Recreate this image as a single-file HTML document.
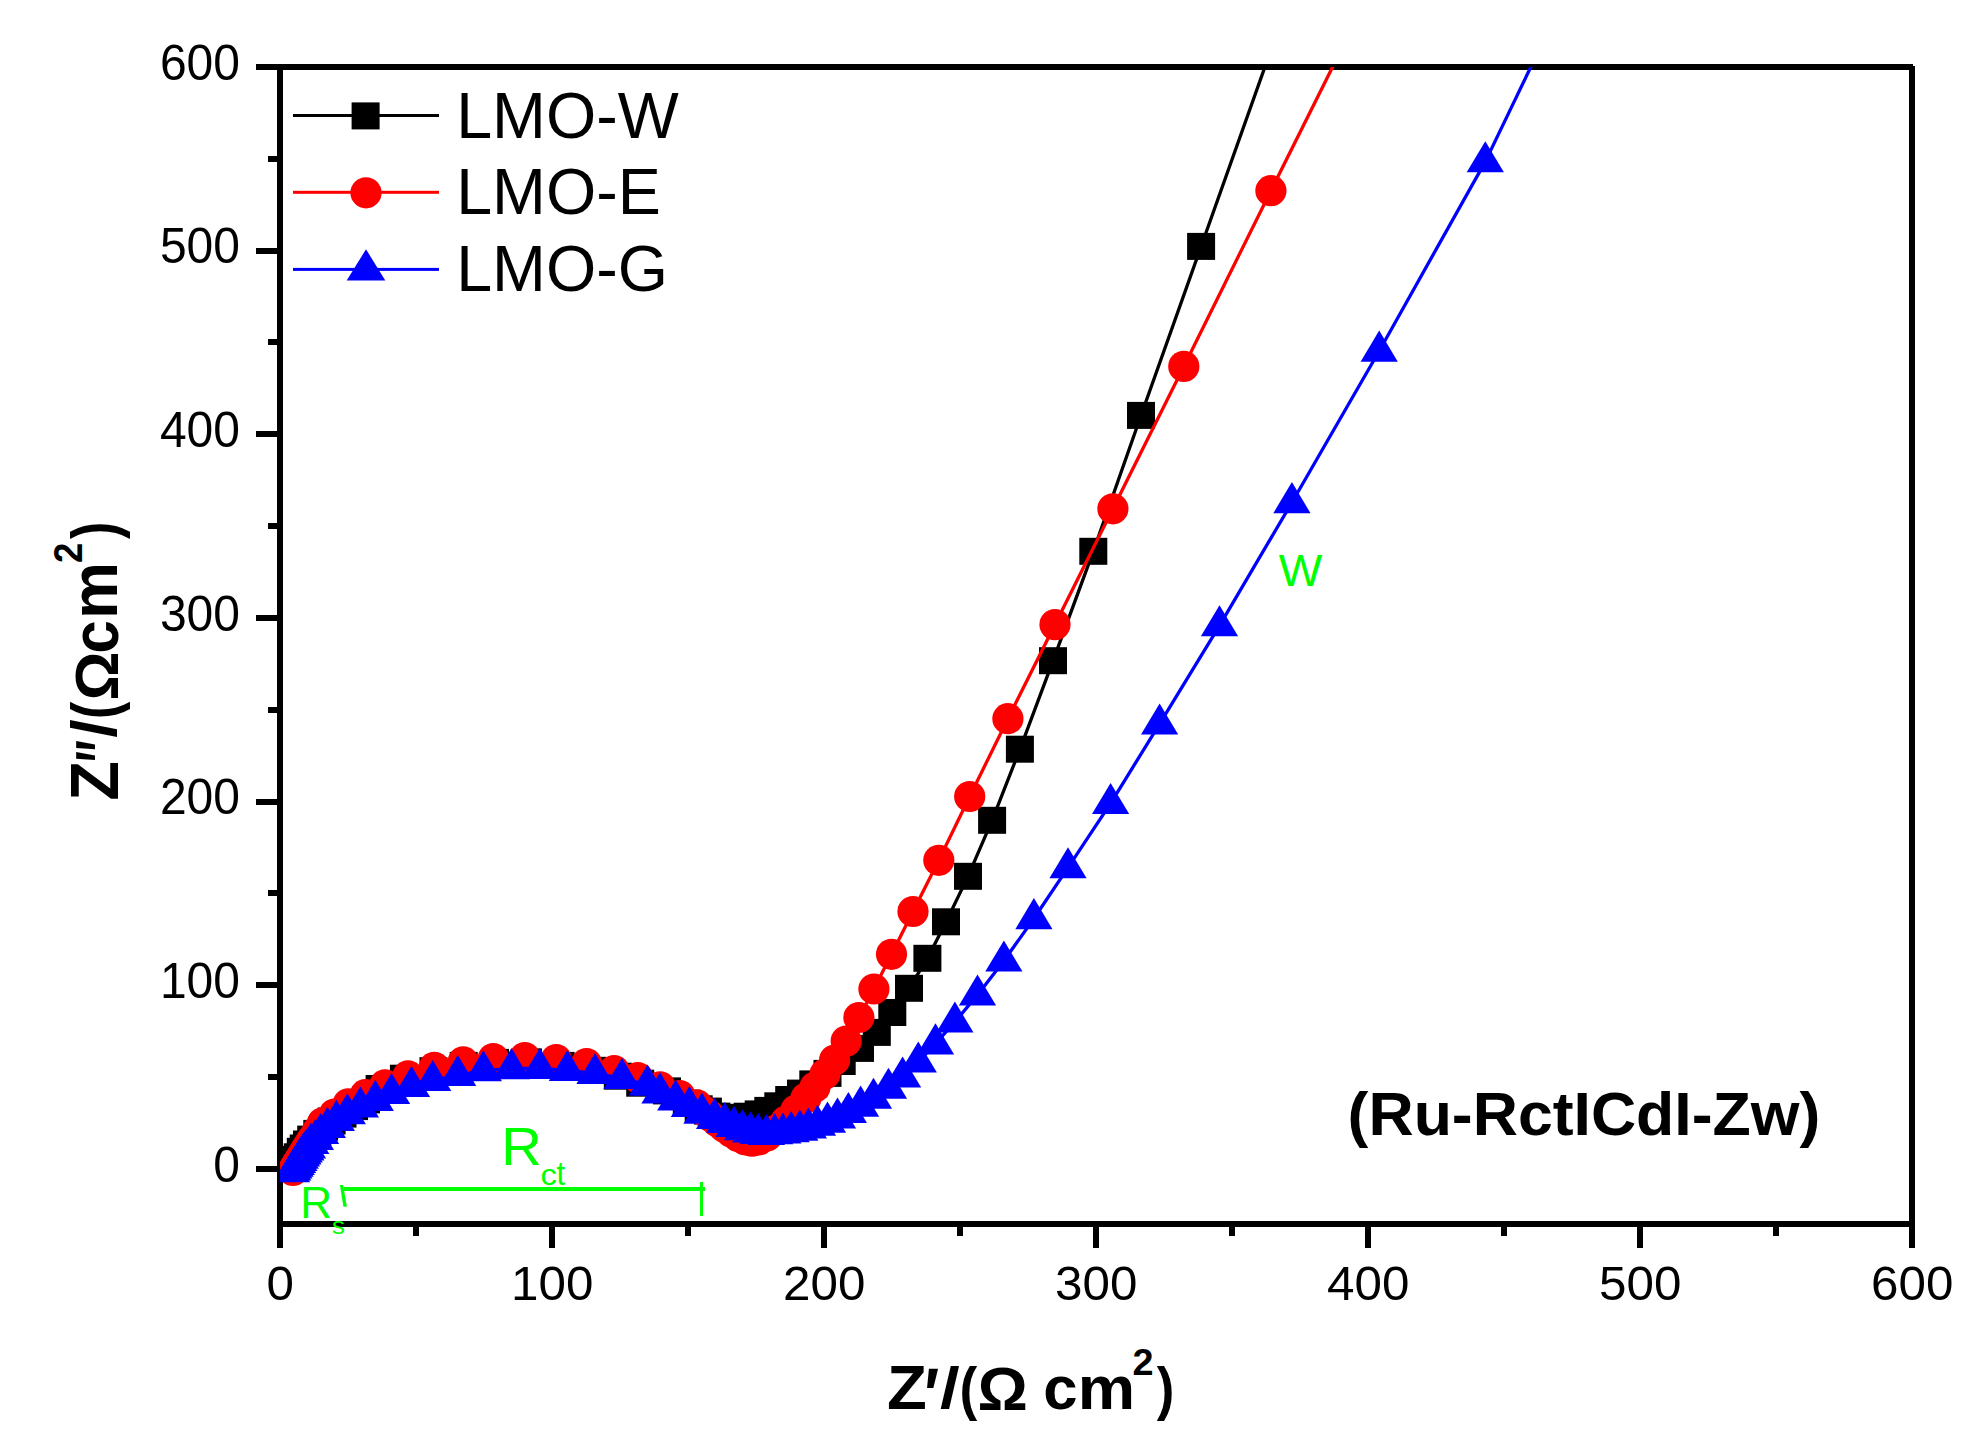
<!DOCTYPE html>
<html lang="en"><head><meta charset="utf-8"><title>Nyquist plot</title>
<style>html,body{margin:0;padding:0;background:#fff}svg{display:block}</style></head>
<body>
<svg width="1978" height="1451" viewBox="0 0 1978 1451" font-family="'Liberation Sans', Arial, Helvetica, sans-serif">
<rect width="1978" height="1451" fill="#fff"/>
<defs><clipPath id="plot"><rect x="280" y="67" width="1632" height="1157"/></clipPath></defs>
<g id="axes">
<rect x="277" y="64" width="6" height="1184" fill="#000"/>
<rect x="1909" y="66" width="6" height="1182" fill="#000"/>
<rect x="256" y="64" width="1657" height="6" fill="#000"/>
<rect x="277" y="1221" width="1638" height="6" fill="#000"/>
<rect x="256" y="1166" width="21" height="6" fill="#000"/>
<rect x="256" y="982" width="21" height="6" fill="#000"/>
<rect x="256" y="799" width="21" height="6" fill="#000"/>
<rect x="256" y="615" width="21" height="6" fill="#000"/>
<rect x="256" y="431" width="21" height="6" fill="#000"/>
<rect x="256" y="248" width="21" height="6" fill="#000"/>
<rect x="268" y="1074" width="9" height="6" fill="#000"/>
<rect x="268" y="890" width="9" height="6" fill="#000"/>
<rect x="268" y="707" width="9" height="6" fill="#000"/>
<rect x="268" y="523" width="9" height="6" fill="#000"/>
<rect x="268" y="339" width="9" height="6" fill="#000"/>
<rect x="268" y="156" width="9" height="6" fill="#000"/>
<rect x="549" y="1227" width="6" height="21" fill="#000"/>
<rect x="821" y="1227" width="6" height="21" fill="#000"/>
<rect x="1093" y="1227" width="6" height="21" fill="#000"/>
<rect x="1365" y="1227" width="6" height="21" fill="#000"/>
<rect x="1637" y="1227" width="6" height="21" fill="#000"/>
<rect x="413" y="1227" width="6" height="9" fill="#000"/>
<rect x="685" y="1227" width="6" height="9" fill="#000"/>
<rect x="957" y="1227" width="6" height="9" fill="#000"/>
<rect x="1229" y="1227" width="6" height="9" fill="#000"/>
<rect x="1501" y="1227" width="6" height="9" fill="#000"/>
<rect x="1773" y="1227" width="6" height="9" fill="#000"/>
</g>
<g id="ticklabels" font-size="49.5" fill="#000">
<text transform="translate(240 1181.7) scale(0.97 1)" text-anchor="end">0</text>
<text transform="translate(240 998.0) scale(0.97 1)" text-anchor="end">100</text>
<text transform="translate(240 814.4) scale(0.97 1)" text-anchor="end">200</text>
<text transform="translate(240 630.7) scale(0.97 1)" text-anchor="end">300</text>
<text transform="translate(240 447.0) scale(0.97 1)" text-anchor="end">400</text>
<text transform="translate(240 263.4) scale(0.97 1)" text-anchor="end">500</text>
<text transform="translate(240 79.7) scale(0.97 1)" text-anchor="end">600</text>
<text transform="translate(280.3 1299.6) scale(1.033 1)" font-size="47.8" text-anchor="middle">0</text>
<text transform="translate(552.3 1299.6) scale(1.033 1)" font-size="47.8" text-anchor="middle">100</text>
<text transform="translate(824.3 1299.6) scale(1.033 1)" font-size="47.8" text-anchor="middle">200</text>
<text transform="translate(1096.3 1299.6) scale(1.033 1)" font-size="47.8" text-anchor="middle">300</text>
<text transform="translate(1368.3 1299.6) scale(1.033 1)" font-size="47.8" text-anchor="middle">400</text>
<text transform="translate(1640.3 1299.6) scale(1.033 1)" font-size="47.8" text-anchor="middle">500</text>
<text transform="translate(1912.3 1299.6) scale(1.033 1)" font-size="47.8" text-anchor="middle">600</text>
</g>
<g id="data" clip-path="url(#plot)">
<path d="M283.0 1168.0 L286.0 1165.0 L289.5 1162.0 L293.5 1159.5 L297.8 1156.9 L300.8 1151.4 L303.7 1148.1 L307.0 1144.1 L311.2 1139.2 L317.3 1133.5 L324.1 1127.3 L331.6 1121.1 L342.5 1114.2 L354.0 1106.7 L366.0 1100.0 L379.6 1088.6 L403.9 1078.3 L433.5 1070.8 L463.7 1065.5 L495.0 1062.5 L528.0 1062.0 L560.6 1065.5 L592.2 1070.4 L617.8 1076.3 L640.2 1083.3 L667.0 1091.0 L686.8 1103.3 L698.7 1108.9 L707.9 1111.2 L716.4 1116.2 L726.0 1117.5 L736.0 1117.5 L747.7 1116.3 L758.7 1114.0 L768.3 1110.5 L778.3 1105.9 L789.2 1099.6 L801.0 1093.2 L813.3 1084.0 L827.5 1073.5 L841.7 1061.6 L860.0 1048.5 L876.8 1032.5 L892.3 1012.6 L909.0 988.4 L927.4 958.4 L946.0 921.9 L968.0 876.4 L992.1 820.4 L1019.9 749.3 L1053.0 660.8 L1093.3 551.4 L1141.0 415.5 L1201.1 246.5 L1306.5 -50.0" fill="none" stroke="#000" stroke-width="3.3" stroke-linejoin="round"/>
<g fill="#000">
<rect x="269.0" y="1154.4" width="28" height="27"/>
<rect x="272.0" y="1151.4" width="28" height="27"/>
<rect x="275.5" y="1148.4" width="28" height="27"/>
<rect x="279.5" y="1145.9" width="28" height="27"/>
<rect x="283.8" y="1143.3" width="28" height="27"/>
<rect x="286.8" y="1137.8" width="28" height="27"/>
<rect x="289.7" y="1134.5" width="28" height="27"/>
<rect x="293.0" y="1130.5" width="28" height="27"/>
<rect x="297.2" y="1125.6" width="28" height="27"/>
<rect x="303.3" y="1119.9" width="28" height="27"/>
<rect x="310.1" y="1113.7" width="28" height="27"/>
<rect x="317.6" y="1107.5" width="28" height="27"/>
<rect x="328.5" y="1100.6" width="28" height="27"/>
<rect x="340.0" y="1093.1" width="28" height="27"/>
<rect x="352.0" y="1086.4" width="28" height="27"/>
<rect x="365.6" y="1075.0" width="28" height="27"/>
<rect x="389.9" y="1064.7" width="28" height="27"/>
<rect x="419.5" y="1057.2" width="28" height="27"/>
<rect x="449.7" y="1051.9" width="28" height="27"/>
<rect x="481.0" y="1048.9" width="28" height="27"/>
<rect x="514.0" y="1048.4" width="28" height="27"/>
<rect x="546.6" y="1051.9" width="28" height="27"/>
<rect x="578.2" y="1056.8" width="28" height="27"/>
<rect x="603.8" y="1062.7" width="28" height="27"/>
<rect x="626.2" y="1069.7" width="28" height="27"/>
<rect x="653.0" y="1077.4" width="28" height="27"/>
<rect x="672.8" y="1089.7" width="28" height="27"/>
<rect x="684.7" y="1095.3" width="28" height="27"/>
<rect x="693.9" y="1097.6" width="28" height="27"/>
<rect x="702.4" y="1102.6" width="28" height="27"/>
<rect x="712.0" y="1103.9" width="28" height="27"/>
<rect x="722.0" y="1103.9" width="28" height="27"/>
<rect x="733.7" y="1102.7" width="28" height="27"/>
<rect x="744.7" y="1100.4" width="28" height="27"/>
<rect x="754.3" y="1096.9" width="28" height="27"/>
<rect x="764.3" y="1092.3" width="28" height="27"/>
<rect x="775.2" y="1086.0" width="28" height="27"/>
<rect x="787.0" y="1079.6" width="28" height="27"/>
<rect x="799.3" y="1070.4" width="28" height="27"/>
<rect x="813.5" y="1059.9" width="28" height="27"/>
<rect x="827.7" y="1048.0" width="28" height="27"/>
<rect x="846.0" y="1034.9" width="28" height="27"/>
<rect x="862.8" y="1018.9" width="28" height="27"/>
<rect x="878.3" y="999.0" width="28" height="27"/>
<rect x="895.0" y="974.8" width="28" height="27"/>
<rect x="913.4" y="944.8" width="28" height="27"/>
<rect x="932.0" y="908.3" width="28" height="27"/>
<rect x="954.0" y="862.8" width="28" height="27"/>
<rect x="978.1" y="806.8" width="28" height="27"/>
<rect x="1005.9" y="735.7" width="28" height="27"/>
<rect x="1039.0" y="647.2" width="28" height="27"/>
<rect x="1079.3" y="537.8" width="28" height="27"/>
<rect x="1127.0" y="401.9" width="28" height="27"/>
<rect x="1187.1" y="232.9" width="28" height="27"/>
<rect x="1292.5" y="-63.6" width="28" height="27"/>
</g>
<path d="M293.0 1170.5 L294.7 1167.8 L296.3 1165.2 L298.0 1162.5 L299.6 1159.9 L301.3 1157.2 L302.9 1154.6 L304.6 1151.9 L306.2 1149.3 L307.9 1146.6 L309.5 1144.0 L311.2 1141.3 L312.8 1138.7 L317.5 1131.0 L322.6 1122.9 L334.4 1114.0 L348.2 1103.9 L365.3 1094.7 L385.0 1084.8 L408.0 1075.9 L434.3 1067.4 L463.2 1061.8 L493.3 1058.5 L524.8 1057.5 L556.2 1059.6 L586.5 1063.5 L614.1 1070.6 L637.7 1077.6 L660.1 1086.8 L679.8 1095.6 L696.9 1104.8 L703.0 1110.5 L710.0 1116.0 L717.0 1121.5 L724.0 1127.0 L731.0 1132.0 L738.0 1136.5 L745.0 1139.8 L752.0 1141.2 L759.0 1140.0 L767.0 1136.0 L776.0 1130.0 L786.0 1121.0 L796.0 1110.0 L806.0 1098.0 L815.0 1087.0 L825.0 1074.0 L834.6 1060.0 L846.2 1041.1 L858.9 1017.5 L873.9 989.0 L891.5 954.3 L913.0 911.5 L938.8 860.3 L969.7 796.5 L1007.9 718.7 L1055.0 624.6 L1112.9 508.8 L1183.8 366.4 L1270.9 190.7 L1378.0 -24.0" fill="none" stroke="#f00" stroke-width="3.3" stroke-linejoin="round"/>
<g fill="#f00">
<circle cx="293.0" cy="1170.5" r="15.6"/>
<circle cx="294.7" cy="1167.8" r="15.6"/>
<circle cx="296.3" cy="1165.2" r="15.6"/>
<circle cx="298.0" cy="1162.5" r="15.6"/>
<circle cx="299.6" cy="1159.9" r="15.6"/>
<circle cx="301.3" cy="1157.2" r="15.6"/>
<circle cx="302.9" cy="1154.6" r="15.6"/>
<circle cx="304.6" cy="1151.9" r="15.6"/>
<circle cx="306.2" cy="1149.3" r="15.6"/>
<circle cx="307.9" cy="1146.6" r="15.6"/>
<circle cx="309.5" cy="1144.0" r="15.6"/>
<circle cx="311.2" cy="1141.3" r="15.6"/>
<circle cx="312.8" cy="1138.7" r="15.6"/>
<circle cx="317.5" cy="1131.0" r="15.6"/>
<circle cx="322.6" cy="1122.9" r="15.6"/>
<circle cx="334.4" cy="1114.0" r="15.6"/>
<circle cx="348.2" cy="1103.9" r="15.6"/>
<circle cx="365.3" cy="1094.7" r="15.6"/>
<circle cx="385.0" cy="1084.8" r="15.6"/>
<circle cx="408.0" cy="1075.9" r="15.6"/>
<circle cx="434.3" cy="1067.4" r="15.6"/>
<circle cx="463.2" cy="1061.8" r="15.6"/>
<circle cx="493.3" cy="1058.5" r="15.6"/>
<circle cx="524.8" cy="1057.5" r="15.6"/>
<circle cx="556.2" cy="1059.6" r="15.6"/>
<circle cx="586.5" cy="1063.5" r="15.6"/>
<circle cx="614.1" cy="1070.6" r="15.6"/>
<circle cx="637.7" cy="1077.6" r="15.6"/>
<circle cx="660.1" cy="1086.8" r="15.6"/>
<circle cx="679.8" cy="1095.6" r="15.6"/>
<circle cx="696.9" cy="1104.8" r="15.6"/>
<circle cx="703.0" cy="1110.5" r="15.6"/>
<circle cx="710.0" cy="1116.0" r="15.6"/>
<circle cx="717.0" cy="1121.5" r="15.6"/>
<circle cx="724.0" cy="1127.0" r="15.6"/>
<circle cx="731.0" cy="1132.0" r="15.6"/>
<circle cx="738.0" cy="1136.5" r="15.6"/>
<circle cx="745.0" cy="1139.8" r="15.6"/>
<circle cx="752.0" cy="1141.2" r="15.6"/>
<circle cx="759.0" cy="1140.0" r="15.6"/>
<circle cx="767.0" cy="1136.0" r="15.6"/>
<circle cx="776.0" cy="1130.0" r="15.6"/>
<circle cx="786.0" cy="1121.0" r="15.6"/>
<circle cx="796.0" cy="1110.0" r="15.6"/>
<circle cx="806.0" cy="1098.0" r="15.6"/>
<circle cx="815.0" cy="1087.0" r="15.6"/>
<circle cx="825.0" cy="1074.0" r="15.6"/>
<circle cx="834.6" cy="1060.0" r="15.6"/>
<circle cx="846.2" cy="1041.1" r="15.6"/>
<circle cx="858.9" cy="1017.5" r="15.6"/>
<circle cx="873.9" cy="989.0" r="15.6"/>
<circle cx="891.5" cy="954.3" r="15.6"/>
<circle cx="913.0" cy="911.5" r="15.6"/>
<circle cx="938.8" cy="860.3" r="15.6"/>
<circle cx="969.7" cy="796.5" r="15.6"/>
<circle cx="1007.9" cy="718.7" r="15.6"/>
<circle cx="1055.0" cy="624.6" r="15.6"/>
<circle cx="1112.9" cy="508.8" r="15.6"/>
<circle cx="1183.8" cy="366.4" r="15.6"/>
<circle cx="1270.9" cy="190.7" r="15.6"/>
<circle cx="1378.0" cy="-24.0" r="15.6"/>
</g>
<path d="M291.5 1171.6 L292.7 1169.8 L293.9 1167.9 L295.1 1166.0 L296.3 1164.2 L297.6 1162.2 L298.9 1160.3 L300.2 1158.0 L301.5 1155.7 L302.9 1153.8 L304.2 1151.8 L305.9 1149.8 L307.5 1147.8 L310.8 1143.2 L315.4 1139.3 L320.6 1133.4 L327.4 1127.2 L336.4 1120.2 L347.3 1113.6 L360.4 1106.8 L375.3 1100.2 L391.6 1093.4 L411.5 1086.4 L432.7 1080.4 L457.7 1075.4 L483.4 1070.6 L511.5 1068.5 L539.8 1068.4 L567.4 1070.4 L595.0 1073.3 L622.0 1078.3 L647.5 1085.0 L660.0 1092.7 L675.7 1099.8 L689.4 1106.3 L702.0 1113.0 L714.6 1118.2 L724.8 1122.3 L734.0 1126.2 L742.5 1129.6 L750.7 1131.8 L758.3 1133.3 L766.5 1134.2 L774.7 1133.6 L782.9 1132.9 L791.1 1131.5 L799.8 1130.0 L808.4 1127.8 L817.5 1125.1 L827.5 1122.0 L837.5 1117.8 L848.4 1112.3 L860.6 1106.0 L873.5 1098.1 L888.5 1088.1 L902.6 1076.8 L918.3 1061.8 L935.5 1043.7 L954.9 1021.9 L977.5 994.9 L1003.9 960.8 L1033.9 918.5 L1068.0 867.6 L1110.6 803.3 L1159.6 723.9 L1219.5 625.6 L1291.9 502.5 L1379.2 351.0 L1485.3 161.6 L1600.0 -77.0" fill="none" stroke="#00f" stroke-width="3.3" stroke-linejoin="round"/>
<g fill="#00f">
<path d="M291.5 1151.2 L310.1 1182.3 L272.9 1182.3Z"/>
<path d="M292.7 1149.4 L311.3 1180.5 L274.1 1180.5Z"/>
<path d="M293.9 1147.5 L312.5 1178.6 L275.3 1178.6Z"/>
<path d="M295.1 1145.6 L313.7 1176.7 L276.5 1176.7Z"/>
<path d="M296.3 1143.8 L314.9 1174.9 L277.7 1174.9Z"/>
<path d="M297.6 1141.8 L316.2 1172.9 L279.0 1172.9Z"/>
<path d="M298.9 1139.9 L317.5 1171.0 L280.3 1171.0Z"/>
<path d="M300.2 1137.6 L318.8 1168.7 L281.6 1168.7Z"/>
<path d="M301.5 1135.3 L320.1 1166.4 L282.9 1166.4Z"/>
<path d="M302.9 1133.4 L321.5 1164.5 L284.3 1164.5Z"/>
<path d="M304.2 1131.4 L322.8 1162.5 L285.6 1162.5Z"/>
<path d="M305.9 1129.4 L324.5 1160.5 L287.3 1160.5Z"/>
<path d="M307.5 1127.4 L326.1 1158.5 L288.9 1158.5Z"/>
<path d="M310.8 1122.8 L329.4 1153.9 L292.2 1153.9Z"/>
<path d="M315.4 1118.9 L334.0 1150.0 L296.8 1150.0Z"/>
<path d="M320.6 1113.0 L339.2 1144.1 L302.0 1144.1Z"/>
<path d="M327.4 1106.8 L346.0 1137.9 L308.8 1137.9Z"/>
<path d="M336.4 1099.8 L355.0 1130.9 L317.8 1130.9Z"/>
<path d="M347.3 1093.2 L365.9 1124.3 L328.7 1124.3Z"/>
<path d="M360.4 1086.4 L379.0 1117.5 L341.8 1117.5Z"/>
<path d="M375.3 1079.8 L393.9 1110.9 L356.7 1110.9Z"/>
<path d="M391.6 1073.0 L410.2 1104.1 L373.0 1104.1Z"/>
<path d="M411.5 1066.0 L430.1 1097.1 L392.9 1097.1Z"/>
<path d="M432.7 1060.0 L451.3 1091.1 L414.1 1091.1Z"/>
<path d="M457.7 1055.0 L476.3 1086.1 L439.1 1086.1Z"/>
<path d="M483.4 1050.2 L502.0 1081.3 L464.8 1081.3Z"/>
<path d="M511.5 1048.1 L530.1 1079.2 L492.9 1079.2Z"/>
<path d="M539.8 1048.0 L558.4 1079.1 L521.2 1079.1Z"/>
<path d="M567.4 1050.0 L586.0 1081.1 L548.8 1081.1Z"/>
<path d="M595.0 1052.9 L613.6 1084.0 L576.4 1084.0Z"/>
<path d="M622.0 1057.9 L640.6 1089.0 L603.4 1089.0Z"/>
<path d="M647.5 1064.6 L666.1 1095.7 L628.9 1095.7Z"/>
<path d="M660.0 1072.3 L678.6 1103.4 L641.4 1103.4Z"/>
<path d="M675.7 1079.4 L694.3 1110.5 L657.1 1110.5Z"/>
<path d="M689.4 1085.9 L708.0 1117.0 L670.8 1117.0Z"/>
<path d="M702.0 1092.6 L720.6 1123.7 L683.4 1123.7Z"/>
<path d="M714.6 1097.8 L733.2 1128.9 L696.0 1128.9Z"/>
<path d="M724.8 1101.9 L743.4 1133.0 L706.2 1133.0Z"/>
<path d="M734.0 1105.8 L752.6 1136.9 L715.4 1136.9Z"/>
<path d="M742.5 1109.2 L761.1 1140.3 L723.9 1140.3Z"/>
<path d="M750.7 1111.4 L769.3 1142.5 L732.1 1142.5Z"/>
<path d="M758.3 1112.9 L776.9 1144.0 L739.7 1144.0Z"/>
<path d="M766.5 1113.8 L785.1 1144.9 L747.9 1144.9Z"/>
<path d="M774.7 1113.2 L793.3 1144.3 L756.1 1144.3Z"/>
<path d="M782.9 1112.5 L801.5 1143.6 L764.3 1143.6Z"/>
<path d="M791.1 1111.1 L809.7 1142.2 L772.5 1142.2Z"/>
<path d="M799.8 1109.6 L818.4 1140.7 L781.2 1140.7Z"/>
<path d="M808.4 1107.4 L827.0 1138.5 L789.8 1138.5Z"/>
<path d="M817.5 1104.7 L836.1 1135.8 L798.9 1135.8Z"/>
<path d="M827.5 1101.6 L846.1 1132.7 L808.9 1132.7Z"/>
<path d="M837.5 1097.4 L856.1 1128.5 L818.9 1128.5Z"/>
<path d="M848.4 1091.9 L867.0 1123.0 L829.8 1123.0Z"/>
<path d="M860.6 1085.6 L879.2 1116.7 L842.0 1116.7Z"/>
<path d="M873.5 1077.7 L892.1 1108.8 L854.9 1108.8Z"/>
<path d="M888.5 1067.7 L907.1 1098.8 L869.9 1098.8Z"/>
<path d="M902.6 1056.4 L921.2 1087.5 L884.0 1087.5Z"/>
<path d="M918.3 1041.4 L936.9 1072.5 L899.7 1072.5Z"/>
<path d="M935.5 1023.3 L954.1 1054.4 L916.9 1054.4Z"/>
<path d="M954.9 1001.5 L973.5 1032.6 L936.3 1032.6Z"/>
<path d="M977.5 974.5 L996.1 1005.6 L958.9 1005.6Z"/>
<path d="M1003.9 940.4 L1022.5 971.5 L985.3 971.5Z"/>
<path d="M1033.9 898.1 L1052.5 929.2 L1015.3 929.2Z"/>
<path d="M1068.0 847.2 L1086.6 878.3 L1049.4 878.3Z"/>
<path d="M1110.6 782.9 L1129.2 814.0 L1092.0 814.0Z"/>
<path d="M1159.6 703.5 L1178.2 734.6 L1141.0 734.6Z"/>
<path d="M1219.5 605.2 L1238.1 636.3 L1200.9 636.3Z"/>
<path d="M1291.9 482.1 L1310.5 513.2 L1273.3 513.2Z"/>
<path d="M1379.2 330.6 L1397.8 361.7 L1360.6 361.7Z"/>
<path d="M1485.3 141.2 L1503.9 172.3 L1466.7 172.3Z"/>
<path d="M1600.0 -97.4 L1618.6 -66.3 L1581.4 -66.3Z"/>
</g>
</g>
<g id="legend">
<rect x="293" y="114" width="146" height="3" fill="#000"/>
<g fill="#000"><rect x="351.6" y="102.4" width="28" height="27"/></g>
<rect x="293" y="190.8" width="146" height="3" fill="#f00"/>
<g fill="#f00"><circle cx="366.0" cy="192.8" r="15.6"/></g>
<rect x="293" y="267.9" width="146" height="3" fill="#00f"/>
<g fill="#00f"><path d="M366.0 249.3 L385.3 280.4 L346.7 280.4Z"/></g>
<text transform="translate(456.2 137.9)" font-size="64.6" fill="#000">LMO-W</text>
<text transform="translate(456.2 214.4)" font-size="64.6" fill="#000">LMO-E</text>
<text transform="translate(456.2 290.8)" font-size="64.6" fill="#000">LMO-G</text>
</g>
<g id="titles" font-weight="bold" fill="#000">
<text transform="translate(117.5 799) rotate(-90)" font-size="66"><tspan x="-1.85" y="0.00" font-size="68.3" textLength="39.73" lengthAdjust="spacingAndGlyphs">Z</tspan><tspan x="37.10" y="9.90" font-size="75" textLength="21.72" lengthAdjust="spacingAndGlyphs">″</tspan><tspan x="61.24" y="-1.50" font-size="63.1" textLength="18.41" lengthAdjust="spacingAndGlyphs">/</tspan><tspan x="79.66" y="-1.00" font-size="64.2" textLength="17.60" lengthAdjust="spacingAndGlyphs">(</tspan><tspan x="98.49" y="0.30" font-size="61.6" textLength="49.11" lengthAdjust="spacingAndGlyphs">Ω</tspan><tspan x="145.47" y="0.50" font-size="66" textLength="33.28" lengthAdjust="spacingAndGlyphs">c</tspan><tspan x="179.97" y="-0.30" font-size="66" textLength="57.02" lengthAdjust="spacingAndGlyphs">m</tspan><tspan x="236.12" y="-35.60" font-size="40.3" textLength="20.35" lengthAdjust="spacingAndGlyphs">2</tspan><tspan x="260.05" y="-1.00" font-size="64.2" textLength="17.48" lengthAdjust="spacingAndGlyphs">)</tspan></text>
<text font-size="60"><tspan x="886.94" y="1409.00" font-size="62.5" textLength="39.84" lengthAdjust="spacingAndGlyphs">Z</tspan><tspan x="924.53" y="1420.90" font-size="75.9" textLength="14.65" lengthAdjust="spacingAndGlyphs">′</tspan><tspan x="940.09" y="1407.80" font-size="57.7" textLength="19.71" lengthAdjust="spacingAndGlyphs">/</tspan><tspan x="959.44" y="1408.60" font-size="58.8" textLength="17.71" lengthAdjust="spacingAndGlyphs">(</tspan><tspan x="977.43" y="1410.00" font-size="60.2" textLength="50.33" lengthAdjust="spacingAndGlyphs">Ω</tspan><tspan x="1030" y="1409" font-size="30"> </tspan><tspan x="1043.39" y="1409.40" font-size="60.6" textLength="34.30" lengthAdjust="spacingAndGlyphs">c</tspan><tspan x="1077.74" y="1409.00" font-size="60.6" textLength="57.37" lengthAdjust="spacingAndGlyphs">m</tspan><tspan x="1132.58" y="1374.90" font-size="37.3" textLength="21.04" lengthAdjust="spacingAndGlyphs">2</tspan><tspan x="1156.75" y="1408.60" font-size="58.8" textLength="17.60" lengthAdjust="spacingAndGlyphs">)</tspan></text>
<text transform="translate(1347.6 1134.8) scale(1.011 1)" font-size="61.9">(Ru-RctICdI-Zw)</text>
</g>
<g id="anno" fill="#0f0">
<rect x="344" y="1187" width="361" height="4" fill="#0f0"/>
<rect x="700" y="1182" width="3" height="34" fill="#0f0"/>
<path d="M339.9 1185.1 L343.1 1185.1 L346.9 1206.8 L343.4 1206.8Z"/>
<text font-size="43.6"><tspan x="1278.67" y="585.90" font-size="43.6" textLength="43.61" lengthAdjust="spacingAndGlyphs">W</tspan></text>
<text font-size="53.8"><tspan x="501.25" y="1165.00" font-size="53.8" textLength="40.55" lengthAdjust="spacingAndGlyphs">R</tspan><tspan x="540.52" y="1184.70" font-size="29.6" textLength="16.44" lengthAdjust="spacingAndGlyphs">c</tspan><tspan x="556.43" y="1184.70" font-size="32.3" textLength="8.79" lengthAdjust="spacingAndGlyphs">t</tspan></text>
<text font-size="43.6"><tspan x="300.23" y="1217.90" font-size="43.6" textLength="31.91" lengthAdjust="spacingAndGlyphs">R</tspan><tspan x="332.07" y="1233.80" font-size="23.6" textLength="12.96" lengthAdjust="spacingAndGlyphs">s</tspan></text>
</g>
</svg>
</body></html>
